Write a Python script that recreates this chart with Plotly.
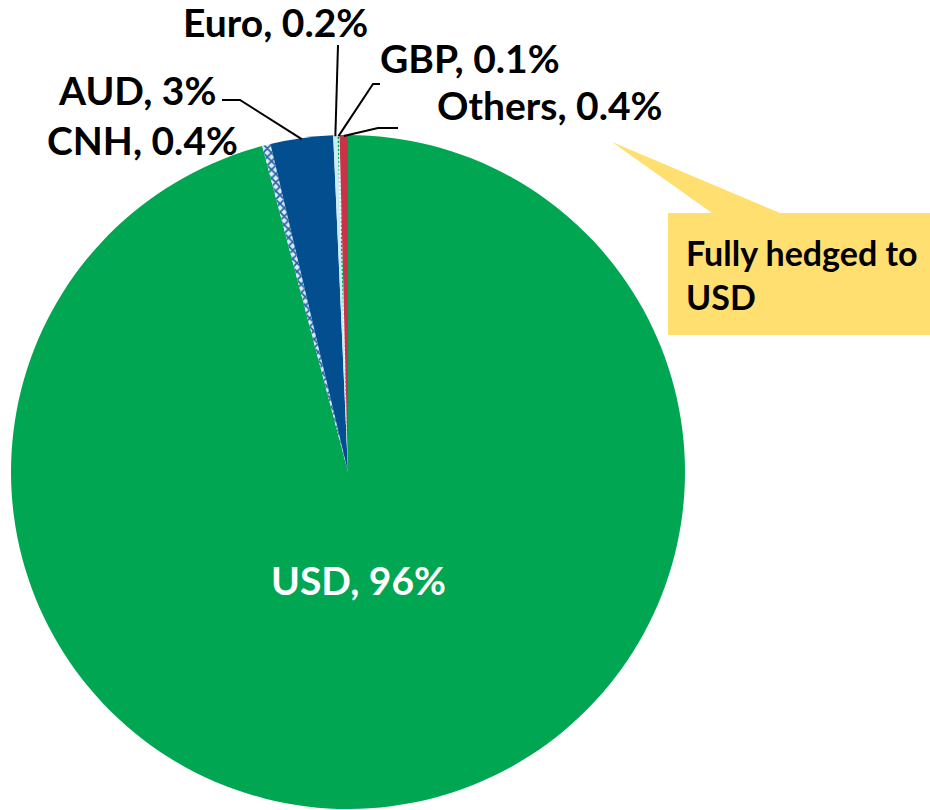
import math
import plotly.graph_objects as go

# ---- data ----
labels = ["USD", "CNH", "AUD", "Euro", "GBP", "Others"]
values = [96, 0.4, 3, 0.2, 0.1, 0.4]
colors = ["#00A651", "#CFE3F3", "#034E8F", "#CCEBF2", "#FFFFFF", "#C8334A"]
callout_text = "Fully hedged to<br>USD"

W, H = 930, 810
CX, CY, R = 348, 472, 337  # pie centre / radius in pixels

FONT = "Lato"
FS = 39

patterns = [
    dict(shape=""),
    dict(shape="x", fgcolor="#2262AA", bgcolor="#DCE9F6", size=6, solidity=0.5),
    dict(shape=""),
    dict(shape=""),
    dict(shape=".", fgcolor="#00A651", bgcolor="#FFFFFF", size=4, solidity=0.4),
    dict(shape=""),
]

fig = go.Figure(go.Pie(
    labels=labels, values=values, sort=False, direction="clockwise", rotation=0,
    marker=dict(colors=colors, line=dict(width=0),
                pattern=dict(shape=[p.get("shape", "") for p in patterns],
                             fgcolor=[p.get("fgcolor", "#000") for p in patterns],
                             bgcolor=[p.get("bgcolor", c) for p, c in zip(patterns, colors)],
                             size=[p.get("size", 8) for p in patterns],
                             solidity=[p.get("solidity", 0.3) for p in patterns])),
    textinfo="none", hoverinfo="label+percent", showlegend=False,
    domain=dict(x=[(CX - R) / W, (CX + R) / W], y=[(H - CY - R) / H, (H - CY + R) / H]),
))

total = sum(values)
cum = []
acc = 0
for v in values:
    cum.append((acc + v / 2) / total)
    acc += v


def edge_px(frac, r=R):
    a = 2 * math.pi * frac
    return CX + r * math.sin(a), CY - r * math.cos(a)


def px2paper(x, y):
    return x / W, (H - y) / H


def lbl(i):
    return f"{labels[i]}, {values[i]:g}%"


shapes = []
annotations = []

leaders = {
    3: [(338, 45)],
    4: [(373, 84), (380, 84)],
    5: [(378, 128), (398, 128)],
    2: [(240, 100), (222, 100)],
}
for i, pts in leaders.items():
    sx, sy = edge_px(cum[i], R - 1)
    path = f"M {sx/W},{(H-sy)/H}"
    for (x, y) in pts:
        path += f" L {x/W},{(H-y)/H}"
    shapes.append(dict(type="path", path=path, xref="paper", yref="paper",
                       line=dict(color="black", width=2)))

label_pos = {
    3: (275, 22, "center"),
    4: (378, 58, "left"),
    2: (218, 90, "right"),
    5: (435, 105, "left"),
    1: (240, 140, "right"),
    0: (358, 580, "center"),
}
for i, (x, y, xa) in label_pos.items():
    px, py = px2paper(x, y)
    annotations.append(dict(x=px, y=py, xref="paper", yref="paper", text=f"<b>{lbl(i)}</b>",
                            showarrow=False, xanchor=xa, yanchor="middle",
                            font=dict(family=FONT, size=FS,
                                      color="white" if i == 0 else "black")))

# callout box
bx0, by0, bx1, by1 = 668, 213, 930, 335
tipx, tipy = 612, 142
b1, b2 = 712, 780
path = (f"M {bx0/W},{(H-by0)/H} L {b1/W},{(H-by0)/H} L {tipx/W},{(H-tipy)/H} "
        f"L {b2/W},{(H-by0)/H} L {bx1/W},{(H-by0)/H} L {bx1/W},{(H-by1)/H} "
        f"L {bx0/W},{(H-by1)/H} Z")
shapes.append(dict(type="path", path=path, xref="paper", yref="paper",
                   fillcolor="#FFDF6F", line=dict(width=0), layer="below"))
annotations.append(dict(x=684 / W, y=(H - 274) / H, xref="paper", yref="paper",
                        text=f"<b>{callout_text}</b>", showarrow=False,
                        xanchor="left", yanchor="middle", align="left",
                        font=dict(family=FONT, size=34, color="black")))

fig.update_layout(width=W, height=H, margin=dict(l=0, r=0, t=0, b=0),
                  paper_bgcolor="white", plot_bgcolor="white",
                  shapes=shapes, annotations=annotations)
fig.write_html("out.html", config={"displayModeBar": False},
               post_script="document.body.style.margin='0';document.body.style.overflow='hidden';")
